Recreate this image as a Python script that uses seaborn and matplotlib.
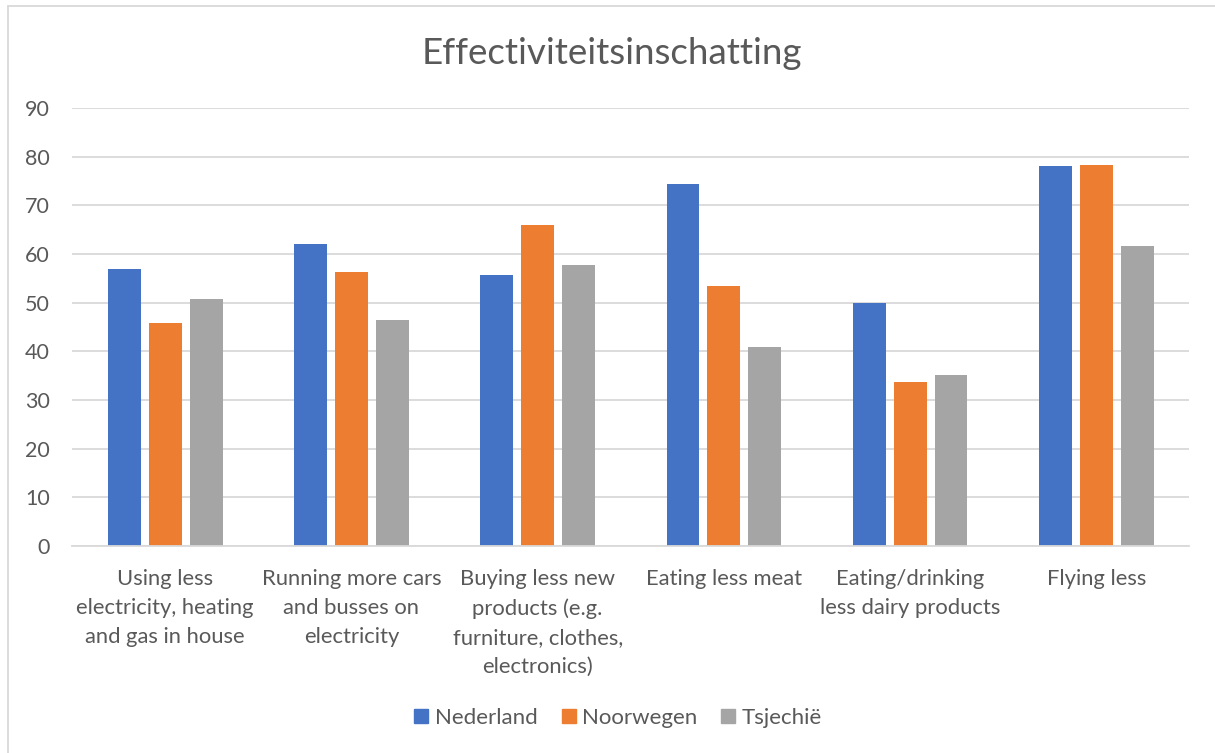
import matplotlib
matplotlib.use("Agg")
import matplotlib.pyplot as plt
import matplotlib.lines as mlines
import pandas as pd
import seaborn as sns

categories = [
    "Using less\nelectricity, heating\nand gas in house",
    "Running more cars\nand busses on\nelectricity",
    "Buying less new\nproducts (e.g.\nfurniture, clothes,\nelectronics)",
    "Eating less meat",
    "Eating/drinking\nless dairy products",
    "Flying less",
]
series = ["Nederland", "Noorwegen", "Tsjechië"]
nederland = [56.9, 62.1, 55.7, 74.3, 50.0, 78.0]
noorwegen = [45.9, 56.4, 66.0, 53.5, 33.7, 78.2]
tsjechie = [50.8, 46.5, 57.8, 40.9, 35.1, 61.7]
yticks = [0, 10, 20, 30, 40, 50, 60, 70, 80, 90]
title = "Effectiviteitsinschatting"

colors = ["#4472C4", "#ED7D31", "#A5A5A5"]
text_color = "#595959"

df = pd.DataFrame({
    "category": categories * 3,
    "series": [series[0]] * 6 + [series[1]] * 6 + [series[2]] * 6,
    "value": nederland + noorwegen + tsjechie,
})

sns.set_theme(style="white")
plt.rcParams["font.family"] = ["Lato", "DejaVu Sans"]

fig = plt.figure(figsize=(12.15, 7.53), dpi=100)
ax = fig.add_axes([0.0593, 0.2749, 0.9197, 0.5817])

sns.barplot(
    data=df, x="category", y="value", hue="series",
    order=categories, hue_order=series, palette=colors,
    width=0.66, gap=0.2, saturation=1, ax=ax, legend=False,
    edgecolor="none",
)

ax.set_ylim(0, 90)
ax.set_yticks(yticks)
ax.set_xlim(-0.5, len(categories) - 0.5)
ax.yaxis.grid(True, color="#D9D9D9", linewidth=1.3)
ax.set_axisbelow(True)
for side in ["top", "right", "left"]:
    ax.spines[side].set_visible(False)
ax.spines["bottom"].set_color("#D9D9D9")
ax.spines["bottom"].set_linewidth(1.3)
ax.set_xlabel("")
ax.set_ylabel("")
ax.tick_params(axis="both", length=0, colors=text_color)
ax.tick_params(axis="x", pad=16.5, labelsize=15.8)
ax.tick_params(axis="y", pad=16, labelsize=15.5)
for lbl in ax.get_xticklabels():
    lbl.set_linespacing(1.56)
for lbl in ax.get_yticklabels():
    lbl.set_horizontalalignment("right")

fig.text(0.5035, 0.929, title, ha="center", va="center",
         fontsize=26.5, color=text_color)

handles = [
    mlines.Line2D([], [], marker="s", linestyle="none", markersize=10.5,
                  markerfacecolor=c, markeredgecolor=c)
    for c in colors
]
fig.legend(handles, series, loc="center", bbox_to_anchor=(0.508, 0.047),
           ncol=3, frameon=False, fontsize=16, handletextpad=0.2,
           columnspacing=1.0, labelcolor=text_color, handlelength=0.8)

# outer frame of the chart area
fig.add_artist(mlines.Line2D([0.0066, 0.0066], [0.0, 0.992],
                             transform=fig.transFigure, color="#D9D9D9", lw=1.3))
fig.add_artist(mlines.Line2D([0.0066, 1.0], [0.992, 0.992],
                             transform=fig.transFigure, color="#D9D9D9", lw=1.3))

fig.savefig("out.png", dpi=100, facecolor="white")
